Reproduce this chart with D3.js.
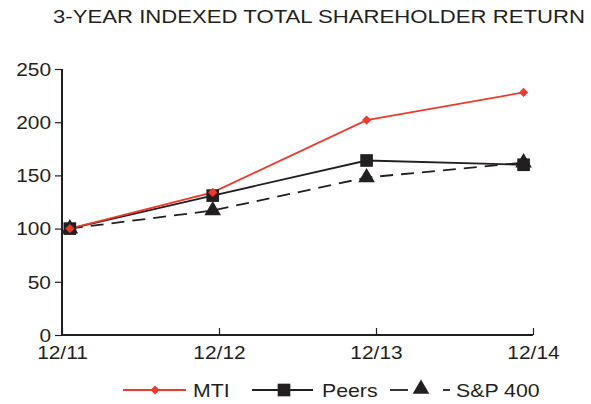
<!DOCTYPE html>
<html>
<head>
<meta charset="utf-8">
<script src="https://cdn.jsdelivr.net/npm/d3@7"></script>
<style>
  body { margin: 0; background: #fff; }
  svg { font-family: "Liberation Sans", Arial, sans-serif; }
</style>
</head>
<body>
<script>
"use strict"

const periods = ['12/11', '12/12', '12/13', '12/14'];
// where each period's points sit along the axis (in period units)
const pointAt = [0.05, 0.96, 1.94, 2.94];
const mti = [100, 134, 202, 228];
const peers = [100, 131, 164, 160];
const sp400 = [100, 117, 148, 162];
const yTicks = [0, 50, 100, 150, 200, 250];

const w = 591, h = 404;
const red = '#ee3a2c', ink = '#231f20';
const fs = '19px';

const svg = d3.select('body')
	.append('svg')
	.attr('width', w)
	.attr('height', h);

// the original type is a bit wider than Liberation Sans
function widen(sel, k) {
	sel.each(function () {
		const len = this.getComputedTextLength();
		d3.select(this).attr('textLength', len * k).attr('lengthAdjust', 'spacingAndGlyphs');
	});
}

svg.append('text')
	.attr('x', 585)
	.attr('y', 23)
	.attr('text-anchor', 'end')
	.style('font-size', fs)
	.attr('fill', ink)
	.text('3-YEAR INDEXED TOTAL SHAREHOLDER RETURN')
	.attr('textLength', 532)
	.attr('lengthAdjust', 'spacingAndGlyphs');

const x = d3.scaleLinear().domain([0, 3]).range([62, 533]);
const y = d3.scaleLinear().domain([0, 250]).range([335, 69]);

// y axis
const yAxis = d3.axisLeft(y).tickValues(yTicks).tickSize(7).tickPadding(4);
const gy = svg.append('g').attr('transform', 'translate(62,0)').call(yAxis);
gy.select('.domain').attr('stroke', ink).attr('stroke-width', 2).attr('d', 'M0,' + y(250) + 'V' + (y(0) + 1));
gy.selectAll('.tick line').attr('stroke', ink).attr('stroke-width', 1.2);
gy.selectAll('.tick text').style('font-size', fs).attr('fill', ink).attr('dy', '0.33em').call(widen, 1.1);

// x axis, ticks pointing up
const xAxis = d3.axisBottom(x).tickValues([0, 1, 2, 3]).tickFormat((d) => periods[d]).tickSize(0).tickPadding(11);
const gx = svg.append('g').attr('transform', 'translate(0,335)').call(xAxis);
gx.select('.domain').attr('stroke', ink).attr('stroke-width', 2).attr('d', 'M' + (x(0) - 1) + ',0H' + x(3));
gx.selectAll('.tick line').attr('y2', -7).attr('stroke', ink).attr('stroke-width', 1.2);
gx.selectAll('.tick text').style('font-size', fs).attr('fill', ink).attr('dy', '0.71em').call(widen, 1.1);

const line = (vals) => d3.line()
	.x((d, i) => x(pointAt[i]))
	.y((d) => y(d))(vals);

// S&P 400 dashed
svg.append('path').attr('d', line(sp400)).attr('fill', 'none')
	.attr('stroke', ink).attr('stroke-width', 1.8).attr('stroke-dasharray', '13,8');
// Peers
svg.append('path').attr('d', line(peers)).attr('fill', 'none')
	.attr('stroke', ink).attr('stroke-width', 1.8);
// MTI
svg.append('path').attr('d', line(mti)).attr('fill', 'none')
	.attr('stroke', red).attr('stroke-width', 1.8);

const tri = d3.symbol().type(d3.symbolTriangle).size(120);
const sq = d3.symbol().type(d3.symbolSquare).size(160);
const dia = d3.symbol().type(d3.symbolSquare).size(42);

svg.selectAll('.sp').data(sp400).enter().append('path')
	.attr('d', tri)
	.attr('transform', (d, i) => 'translate(' + x(pointAt[i]) + ',' + y(d) + ')')
	.attr('fill', ink);
svg.selectAll('.pe').data(peers).enter().append('path')
	.attr('d', sq)
	.attr('transform', (d, i) => 'translate(' + x(pointAt[i]) + ',' + y(d) + ')')
	.attr('fill', ink);
svg.selectAll('.mt').data(mti).enter().append('path')
	.attr('d', dia)
	.attr('transform', (d, i) => 'translate(' + x(pointAt[i]) + ',' + y(d) + ') rotate(45)')
	.attr('fill', red);

// legend
const ly = 390;
const lg = svg.append('g');
lg.append('line').attr('x1', 123).attr('x2', 186).attr('y1', ly).attr('y2', ly).attr('stroke', red).attr('stroke-width', 1.8);
lg.append('path').attr('d', dia).attr('transform', 'translate(155,' + ly + ') rotate(45)').attr('fill', red);
lg.append('text').attr('x', 193).attr('y', ly).attr('dy', '0.36em').style('font-size', fs).attr('fill', ink).text('MTI');

lg.append('line').attr('x1', 252).attr('x2', 313).attr('y1', ly).attr('y2', ly).attr('stroke', ink).attr('stroke-width', 1.8);
lg.append('path').attr('d', sq).attr('transform', 'translate(284,' + ly + ')').attr('fill', ink);
lg.append('text').attr('x', 322).attr('y', ly).attr('dy', '0.36em').style('font-size', fs).attr('fill', ink).text('Peers');

lg.append('line').attr('x1', 390).attr('x2', 408).attr('y1', ly).attr('y2', ly).attr('stroke', ink).attr('stroke-width', 1.8);
lg.append('path').attr('d', tri).attr('transform', 'translate(421,' + (ly - 1) + ')').attr('fill', ink);
lg.append('line').attr('x1', 443).attr('x2', 450).attr('y1', ly).attr('y2', ly).attr('stroke', ink).attr('stroke-width', 1.8);
lg.append('text').attr('x', 456).attr('y', ly).attr('dy', '0.36em').style('font-size', fs).attr('fill', ink).text('S&P 400');
lg.selectAll('text').call(widen, 1.12);
</script>
</body>
</html>
